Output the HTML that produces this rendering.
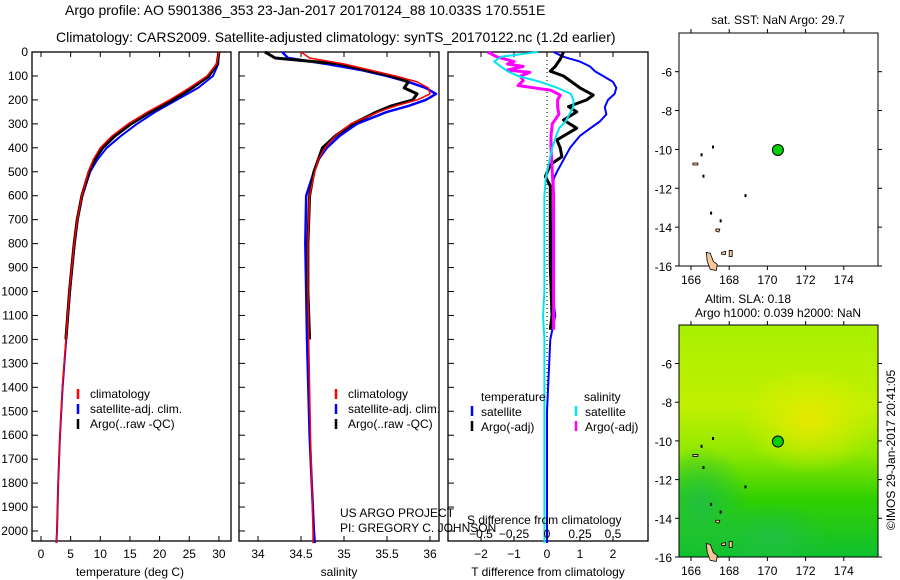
<!DOCTYPE html>
<html><head><meta charset="utf-8"><style>
body{margin:0;background:#fff;}
svg{display:block;font-family:"Liberation Sans",sans-serif;}
</style></head><body>
<svg id="fig" width="900" height="580" xmlns="http://www.w3.org/2000/svg">
<text x="65" y="15" font-size="14">Argo profile: AO 5901386_353 23-Jan-2017 20170124_88 10.033S 170.551E</text>
<text x="56" y="42" font-size="14">Climatology: CARS2009. Satellite-adjusted climatology: synTS_20170122.nc (1.2d earlier)</text>
</svg>
<script>
// ---- data (depth in m) ----
const tDepth=[0,50,100,150,200,250,300,350,400,450,500,600,700,800,900,1000,1200,1400,1600,1800,2000,2050];
const tClim=[30,29.6,28,25,21.7,18,14.7,12,10,8.8,8,6.9,6.1,5.6,5.2,4.8,4.2,3.6,3.2,2.9,2.7,2.6];
const tSat=[30,29.9,29,26.5,22.9,19.3,16.2,13.5,11.1,9.5,8.3,7.0,6.2,5.7,5.3,4.9,4.25,3.65,3.2,2.9,2.7,2.6];
const tArgo=[30,29.7,28.3,25.5,22.3,18.5,15.2,12.5,10.4,9,8.1,6.9,6.1,5.6,5.2,4.8,4.2];
const sDepth=[0,25,50,75,100,125,150,175,200,225,250,300,350,400,450,500,600,800,1000,1200,1600,2000,2050];
const sClim=[34.5,34.6,35.0,35.3,35.6,35.85,35.98,36.0,35.85,35.6,35.4,35.08,34.9,34.78,34.7,34.66,34.6,34.58,34.58,34.59,34.61,34.64,34.64];
const sSat=[34.28,34.35,34.8,35.2,35.5,35.75,35.95,36.07,35.95,35.75,35.5,35.15,34.95,34.8,34.7,34.65,34.56,34.55,34.56,34.57,34.6,34.65,34.66];
const sArgo=[34.08,34.2,34.95,35.25,35.55,35.75,35.7,35.85,35.8,35.55,35.38,35.1,34.9,34.75,34.7,34.65,34.6,34.58,34.58,34.6];
const dDepth=[0,20,40,60,80,100,125,150,175,200,230,260,290,320,350,400,450,500,530,600,800,1000,1100,1200,1500,2000,2050];
const dTSat=[0.2,0.5,1.0,1.3,1.45,1.7,2.0,2.1,2.05,1.85,1.75,1.8,1.6,1.3,1.0,0.7,0.5,0.3,0.2,0.2,0.15,0.15,0.25,0.1,0.0,0.0,0.0];
const dTArgoDepth=[0,30,60,80,100,130,150,180,200,228,250,284,318,367,400,437,470,520,560,700,900,1100,1160];
const dTArgo=[0.5,0.4,0.25,0.1,0.5,0.8,1.0,1.4,1.2,0.65,0.9,0.5,0.9,0.3,0.4,0.45,0.1,-0.05,0.1,0.1,0.1,0.15,0.1];
const dSSat=[-0.07,-0.35,-0.4,-0.35,-0.3,-0.22,-0.05,0.08,0.18,0.2,0.2,0.17,0.14,0.09,0.07,0.04,0.02,0.0,-0.01,-0.02,-0.02,-0.02,-0.03,-0.02,-0.02,-0.02,-0.02];
const dSArgoDepth=[0,20,40,50,60,75,85,100,120,140,160,180,200,230,260,300,350,400,500,600,800,1000,1100,1160];
const dSArgo=[-0.45,-0.38,-0.25,-0.3,-0.18,-0.3,-0.13,-0.2,-0.18,-0.22,0.03,0.1,0.08,0.08,0.09,0.04,0.03,0.03,0.04,0.05,0.05,0.05,0.05,0.05];
const depthTicks=[0,100,200,300,400,500,600,700,800,900,1000,1100,1200,1300,1400,1500,1600,1700,1800,1900,2000];
const tTicks=[0,5,10,15,20,25,30];
const sTicks=[34,34.5,35,35.5,36];
const dTTicks=[-2,-1,0,1,2];
const dSTicks=["-0.5","-0.25","0","0.25","0.5"];
const lonTicks=[166,168,170,172,174];
const latTicks=[-6,-8,-10,-12,-14,-16];
const argoLon=170.55, argoLat=-10.03;

const NS="http://www.w3.org/2000/svg";
const fig=document.getElementById('fig');
function el(tag,attrs,parent){const e=document.createElementNS(NS,tag);for(const k in attrs)e.setAttribute(k,attrs[k]);(parent||fig).appendChild(e);return e;}
function txt(x,y,s,size,anchor,parent){const t=el('text',{x:x,y:y,'font-size':size||12,'text-anchor':anchor||'start'},parent);t.textContent=s;return t;}
const Y0=52,YS=0.2395;
function yD(d){return Y0+d*YS;}
const PB=541;
function frame(x0,x1,name){
 const r=el('rect',{x:x0,y:Y0,width:x1-x0,height:PB-Y0,fill:'none',stroke:'#000','stroke-width':1.3});
 
 
}
function line(xs,ds,xf,color,w,name){
 let p='';for(let i=0;i<Math.min(xs.length,ds.length);i++){p+=(i?'L':'M')+xf(xs[i]).toFixed(1)+','+yD(ds[i]).toFixed(1);}
 const e=el('path',{d:p,fill:'none',stroke:color,'stroke-width':w,'stroke-linejoin':'round'});
 
 
}
function xTicks(vals,labels,xf){
 vals.forEach((v,i)=>{const x=xf(v);el('line',{x1:x,y1:Y0,x2:x,y2:Y0+5,stroke:'#000'});el('line',{x1:x,y1:PB,x2:x,y2:PB-5,stroke:'#000'});
  const t=txt(x,558,labels[i],12,'middle');});
}
// panel 1 temperature
const xT=v=>41+v*5.93;
frame(32,231,'temperature-panel');
depthTicks.forEach(d=>{const y=yD(d);el('line',{x1:32,y1:y,x2:38,y2:y,stroke:'#000'});el('line',{x1:239,y1:y,x2:245,y2:y,stroke:'#000'});el('line',{x1:448,y1:y,x2:454,y2:y,stroke:'#000'});
 const t=txt(28,y+4,String(d),12,'end');});
xTicks(tTicks,tTicks.map(String),xT);
line(tSat,tDepth,xT,'#0000ff',2,'temp-satellite-line');
line(tArgo,tDepth,xT,'#000',3,'temp-argo-line');
line(tClim,tDepth,xT,'#ff0000',1.5,'temp-climatology-line');
let t=txt(130,576,'temperature (deg C)',12,'middle');
// panel 2 salinity
const xS=v=>258+(v-34)*86;
frame(239,439,'salinity-panel');
xTicks(sTicks,sTicks.map(String),xS);
line(sSat,sDepth,xS,'#0000ff',2.5,'sal-satellite-line');
line(sArgo,sDepth,xS,'#000',3,'sal-argo-line');
line(sClim,sDepth,xS,'#ff0000',1.5,'sal-climatology-line');
t=txt(339,576,'salinity',12,'middle');
// legends
function legend(x,entries,name){entries.forEach((e,i)=>{const y=398+i*15;el('line',{x1:x,y1:y-9,x2:x,y2:y+1,stroke:e[1],'stroke-width':2.5});const tt=txt(x+12,y,e[0],12);});}
legend(78,[['climatology','#f00'],['satellite-adj. clim.','#00f'],['Argo(..raw -QC)','#000']],'legend-entry');
legend(336,[['climatology','#f00'],['satellite-adj. clim.','#00f'],['Argo(..raw -QC)','#000']],'legend-entry');
t=txt(340,517,'US ARGO PROJECT',12);
t=txt(340,532,'PI: GREGORY C. JOHNSON',12);
// panel 3 differences
const xD=v=>547+v*33;
frame(448,648,'difference-panel');
xTicks(dTTicks,dTTicks.map(v=>v<0?'\u2212'+(-v):String(v)),xD);
el('line',{x1:547,y1:Y0,x2:547,y2:PB-5,stroke:'#000','stroke-dasharray':'1,3'});
line(dTSat,dDepth,xD,'#0000ff',2,'tdiff-satellite-line');
line(dTArgo,dTArgoDepth,xD,'#000',3,'tdiff-argo-line');
line(dSArgo.map(v=>v*4),dSArgoDepth,xD,'#ff00ff',3,'sdiff-argo-line');
line(dSSat.map(v=>v*4),dDepth,xD,'#00e5ee',2,'sdiff-satellite-line');
t=txt(481,401,'temperature',12);
t=txt(584,401,'salinity',12);
[['satellite','#00f',472,416],['Argo(-adj)','#000',472,431],['satellite','#00e5ee',576,416],['Argo(-adj)','#f0f',576,431]].forEach(e=>{el('line',{x1:e[2],y1:e[3]-10,x2:e[2],y2:e[3],stroke:e[1],'stroke-width':2.5});const tt=txt(e[2]+9,e[3],e[0],12);});
t=txt(467,524,'S difference from climatology',12);
dSTicks.forEach((s)=>{const tt=txt(547+(parseFloat(s))*132,538,s.replace('-','\u2212'),12,'middle');});
t=txt(548,576,'T difference from climatology',12,'middle');
// maps
function map(top,bottom,name,filled,id){
 const lx=v=>691+(v-166)*19.1;
 const latY=v=>bottom-(v+16)*((bottom-(top+(bottom-top)*0.166))/10);
 const g=el('g',{});
 if(filled){
  const defs=el('defs',{},g);
  const cp=el('clipPath',{id:'cp'+id},defs);
  el('rect',{x:679,y:top,width:199,height:bottom-top},cp);
  const lg=el('linearGradient',{id:'lg'+id,x1:0,y1:0,x2:0,y2:1},defs);
  el('stop',{offset:'0','stop-color':'#a8f000'},lg);el('stop',{offset:'0.35','stop-color':'#c0f000'},lg);el('stop',{offset:'0.55','stop-color':'#90e800'},lg);el('stop',{offset:'0.75','stop-color':'#30d000'},lg);el('stop',{offset:'1','stop-color':'#10c030'},lg);
  const rg=el('radialGradient',{id:'rg'+id,cx:0.5,cy:0.5,r:0.5},defs);
  el('stop',{offset:'0','stop-color':'#e8e800'},rg);el('stop',{offset:'1','stop-color':'#e0f000','stop-opacity':0},rg);
  const rg2=el('radialGradient',{id:'rgb'+id,cx:0.5,cy:0.5,r:0.5},defs);
  el('stop',{offset:'0','stop-color':'#20c040'},rg2);el('stop',{offset:'1','stop-color':'#20c040','stop-opacity':0},rg2);
  const cg=el('g',{'clip-path':'url(#cp'+id+')'},g);
  el('rect',{x:679,y:top,width:199,height:bottom-top,fill:'url(#lg'+id+')'},cg);
  el('ellipse',{cx:810,cy:top+95,rx:70,ry:55,fill:'url(#rg'+id+')'},cg);
  el('ellipse',{cx:700,cy:top+180,rx:50,ry:60,fill:'url(#rgb'+id+')'},cg);
  el('ellipse',{cx:770,cy:bottom-20,rx:60,ry:35,fill:'url(#rgb'+id+')'},cg);
 }
 el('rect',{x:679,y:top,width:199,height:bottom-top,fill:'none',stroke:'#000'},g);
 lonTicks.forEach(v=>{const x=lx(v);el('line',{x1:x,y1:top,x2:x,y2:top-4,stroke:'#000'},g);el('line',{x1:x,y1:bottom,x2:x,y2:bottom+4,stroke:'#000'},g);txt(x,bottom+18,String(v),12,'middle',g);});
 latTicks.forEach(v=>{const y=latY(v);el('line',{x1:679,y1:y,x2:675,y2:y,stroke:'#000'},g);el('line',{x1:878,y1:y,x2:882,y2:y,stroke:'#000'},g);txt(672,y+5,String(v),12,'end',g);});
 [[166.8,-15.3,'M0,0 l4,1 l3,8 l4,3 l-1,6 l-6,-1 l-3,-8 z'],[167.3,-14.1,'M0,0 l4,0 l-1,3 l-3,-1 z'],[166.1,-10.7,'M0,0 l5,0 l0,2 l-5,0z'],[168.0,-15.2,'M0,0 l3,0 l0,6 l-3,0z'],[167.6,-15.3,'M0,0 l4,-1 l0,3 l-4,0 z']].forEach(s=>{el('path',{d:s[2],transform:'translate('+lx(s[0])+','+latY(s[1])+')',fill:'#fcc898',stroke:'#000','stroke-width':0.8},g);});
 [[167.1,-9.8],[166.5,-10.2],[166.6,-11.3],[167.0,-13.2],[168.8,-12.3],[167.5,-13.6]].forEach(s=>{el('rect',{x:lx(s[0]),y:latY(s[1]),width:2,height:3,fill:'#000'},g);});
 const m=el('circle',{cx:lx(argoLon),cy:latY(argoLat),r:5.5,fill:'#00d000',stroke:'#000','stroke-width':1},g);
 
 
}
map(33,266,'sst-map',false,1);
map(325,557,'sla-map',true,2);
t=txt(778,24,'sat. SST: NaN Argo: 29.7',12,'middle');
t=txt(748,303,'Altim. SLA: 0.18',12,'middle');
t=txt(778,317,'Argo h1000: 0.039 h2000: NaN',12,'middle');
t=txt(0,0,'\u00a9IMOS 29-Jan-2017 20:41:05',12,'middle');t.setAttribute('transform','translate(895,450) rotate(-90)');
</script>
</body></html>
